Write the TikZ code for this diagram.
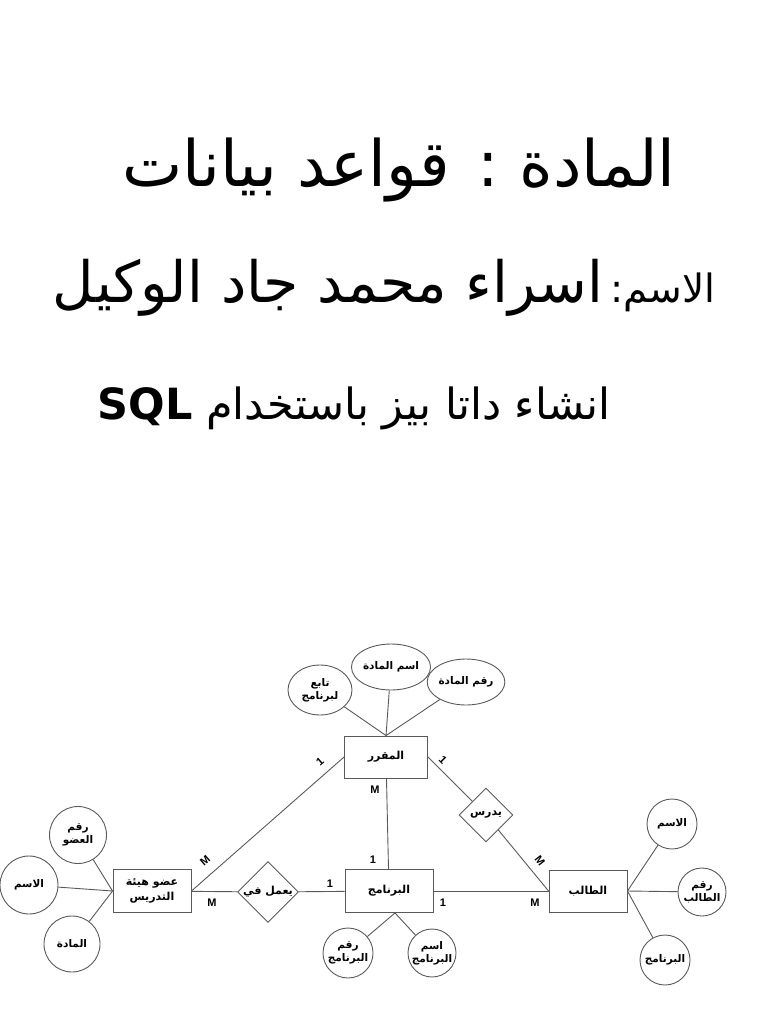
\documentclass[tikz,border=0pt]{standalone}
\usepackage{fontspec}
\setmainfont{Liberation Sans}
\newfontfamily\arabicfont[Script=Arabic]{DejaVu Sans}
\TeXXeTstate=1
\usetikzlibrary{shapes.geometric,positioning}
\newcommand{\ar}[1]{{\arabicfont\beginR #1\endR}}

\begin{document}
\begin{tikzpicture}[x=1pt,y=-1pt,
    every path/.style={line width=0.9pt, black!65},
    entity/.style={draw, minimum width=83pt, minimum height=42pt, inner sep=1pt,
      align=center, text=black, font=\bfseries\fontsize{11}{15}\selectfont},
    attrib/.style={draw, circle, inner sep=0pt, align=center, text=black,
      font=\bfseries\fontsize{10.5}{13}\selectfont},
    attrel/.style={attrib, ellipse},
    rel/.style={draw, diamond, aspect=1, minimum size=56pt, inner sep=0pt,
      text=black, font=\bfseries\fontsize{11}{13}\selectfont},
    card/.style={text=black, inner sep=1pt, font=\bfseries\fontsize{11}{13}\selectfont}]
  \useasboundingbox (0,0) rectangle (768,1024);

  % heading
  \node[text=black, font=\fontsize{64}{72}\selectfont] (title) at (399,170) {\ar{المادة : قواعد بيانات}};
  \node[text=black, font=\fontsize{57}{64}\selectfont] (student) at (384,288)
    {\ar{{\fontsize{39}{44}\selectfont الاسم:}\hspace{7pt}اسراء محمد جاد الوكيل}};
  \node[text=black, font=\fontsize{43}{50}\selectfont] (task) at (354,408)
    {\ar{انشاء داتا بيز باستخدام \beginL\textbf{SQL}\endL{}}};

  % entities
  \node[entity] (mqrr) at (386,757) {\ar{المقرر}};
  \node[entity, minimum width=78pt, minimum height=43pt] (odw) at (152,891) {\ar{عضو هيئة}\\\ar{التدريس}};
  \node[entity, minimum width=88pt, minimum height=43pt] (brn) at (389,891) {\ar{البرنامج}};
  \node[entity, minimum width=78pt, minimum height=42pt] (tlb) at (588,891) {\ar{الطالب}};

  % relations
  \node[rel] (amal) at (268,892) {\ar{يعمل في}};
  \node[rel, minimum size=54pt] (ydrs) at (486,815) {\ar{يدرس}};

  % attributes of the course
  \node[attrel, minimum width=64pt, minimum height=50pt] (tabe) at (320,690) {\ar{تابع}\\\ar{لبرنامج}};
  \node[attrel, minimum width=64pt, minimum height=46pt] (ismm) at (391,667) {\ar{اسم المادة}};
  \node[attrel, minimum width=68pt, minimum height=46pt] (rqmm) at (466,682) {\ar{رقم المادة}};

  % attributes of the staff member
  \node[attrib, minimum size=57pt] (rqmo) at (78,835) {\ar{رقم}\\\ar{العضو}};
  \node[attrib, minimum size=58pt] (isma) at (29,885) {\ar{الاسم}};
  \node[attrib, minimum size=56pt] (madd) at (72,944) {\ar{المادة}};

  % attributes of the programme
  \node[attrib, minimum size=50pt] (rqmb) at (348,953) {\ar{رقم}\\\ar{البرنامج}};
  \node[attrib, minimum size=48pt] (ismb) at (432,953) {\ar{اسم}\\\ar{البرنامج}};

  % attributes of the student
  \node[attrib, minimum size=50pt] (ismt) at (672,824) {\ar{الاسم}};
  \node[attrib, minimum size=48pt] (rqmt) at (702,892) {\ar{رقم}\\\ar{الطالب}};
  \node[attrib, minimum size=50pt] (brnt) at (665,960) {\ar{البرنامج}};

  % attribute lines
  \foreach \a in {tabe,ismm,rqmm} \draw (\a) -- (mqrr.north);
  \foreach \a in {rqmo,isma,madd} \draw (\a) -- (odw.west);
  \foreach \a in {rqmb,ismb} \draw (\a) -- ([xshift=6pt]brn.south);
  \foreach \a in {ismt,rqmt,brnt} \draw (\a) -- (tlb.east);

  % relationships
  \draw (mqrr.west) -- (odw.east);
  \draw (mqrr) -- (brn);
  \draw (mqrr.east) -- (ydrs);
  \draw (ydrs) -- (tlb.west);
  \draw (odw) -- (amal);
  \draw (amal) -- (brn);
  \draw (brn) -- (tlb);

  % cardinalities
  \node[card, rotate=41] (c1) at (320,762) {1};
  \node[card, rotate=41] (c2) at (205,861) {M};
  \node[card, rotate=-45] (c3) at (443,760) {1};
  \node[card, rotate=-52] (c4) at (540,861) {M};
  \node[card] (c5) at (375,790) {M};
  \node[card] (c6) at (373,860) {1};
  \node[card] (c7) at (330,884) {1};
  \node[card] (c8) at (212,903) {M};
  \node[card] (c9) at (443,903) {1};
  \node[card] (c10) at (535,903) {M};
\end{tikzpicture}
\end{document}
